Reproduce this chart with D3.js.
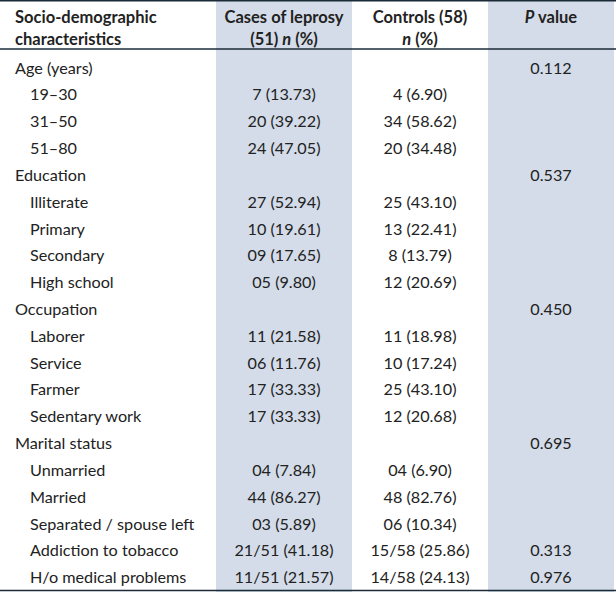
<!DOCTYPE html>
<html><head><meta charset="utf-8">
<script src="https://cdn.jsdelivr.net/npm/d3@7"></script>
<style>body{margin:0;background:#fff}svg{display:block}text{font-family:Lato,"Open Sans",sans-serif;fill:#222}</style>
</head><body><svg id="c" width="616" height="592"></svg>
<script>
const labels = ["Age (years)","19–30","31–50","51–80","Education","Illiterate","Primary","Secondary","High school","Occupation","Laborer","Service","Farmer","Sedentary work","Marital status","Unmarried","Married","Separated / spouse left","Addiction to tobacco","H/o medical problems"];
const levels = [0,1,1,1,0,1,1,1,1,0,1,1,1,1,0,1,1,1,1,1];
const cases = ["","7 (13.73)","20 (39.22)","24 (47.05)","","27 (52.94)","10 (19.61)","09 (17.65)","05 (9.80)","","11 (21.58)","06 (11.76)","17 (33.33)","17 (33.33)","","04 (7.84)","44 (86.27)","03 (5.89)","21/51 (41.18)","11/51 (21.57)"];
const controls = ["","4 (6.90)","34 (58.62)","20 (34.48)","","25 (43.10)","13 (22.41)","8 (13.79)","12 (20.69)","","11 (18.98)","10 (17.24)","25 (43.10)","12 (20.68)","","04 (6.90)","48 (82.76)","06 (10.34)","15/58 (25.86)","14/58 (24.13)"];
const pvalues = ["0.112","","","","0.537","","","","","0.450","","","","","0.695","","","","0.313","0.976"];

const svg = d3.select("#c");
const W = 616, H = 592;
const cols = [0,216,352,488,614];
const shade = "#d3dce8", lineC = "#1b2b38";
svg.append("rect").attr("x",cols[1]).attr("y",0).attr("width",cols[2]-cols[1]).attr("height",H).attr("fill",shade);
svg.append("rect").attr("x",cols[3]).attr("y",0).attr("width",cols[4]-cols[3]).attr("height",H).attr("fill",shade);

const y = d3.scaleBand().domain(d3.range(labels.length)).range([54.5,591]).paddingInner(0);
const fs = 16.2;
const g = svg.append("g").style("font-size",fs+"px");
const rows = g.selectAll("g.row").data(labels).join("g").attr("class","row")
  .attr("transform",(d,i)=>`translate(0,${y(i)+y.bandwidth()/2})`);
rows.append("text").attr("x",(d,i)=>levels[i]?30:15).attr("dy","0.35em").text(d=>d);
rows.append("text").attr("x",(cols[1]+cols[2])/2).attr("text-anchor","middle").attr("dy","0.35em").text((d,i)=>cases[i]);
rows.append("text").attr("x",(cols[2]+cols[3])/2).attr("text-anchor","middle").attr("dy","0.35em").text((d,i)=>controls[i]);
rows.append("text").attr("x",(cols[3]+cols[4])/2).attr("text-anchor","middle").attr("dy","0.35em").text((d,i)=>pvalues[i]);

const hg = svg.append("g").style("font-size","16.5px").style("font-weight","bold");
const l1 = 17, l2 = 39;
hg.append("text").attr("x",15).attr("y",l1).attr("dy","0.35em").text("Socio-demographic");
hg.append("text").attr("x",15).attr("y",l2).attr("dy","0.35em").text("characteristics");
hg.append("text").attr("x",(cols[1]+cols[2])/2).attr("y",l1).attr("dy","0.35em").attr("text-anchor","middle").text("Cases of leprosy");
const t2 = hg.append("text").attr("x",(cols[1]+cols[2])/2).attr("y",l2).attr("dy","0.35em").attr("text-anchor","middle");
t2.append("tspan").text("(51) "); t2.append("tspan").style("font-style","italic").text("n"); t2.append("tspan").text(" (%)");
hg.append("text").attr("x",(cols[2]+cols[3])/2).attr("y",l1).attr("dy","0.35em").attr("text-anchor","middle").text("Controls (58)");
const t3 = hg.append("text").attr("x",(cols[2]+cols[3])/2).attr("y",l2).attr("dy","0.35em").attr("text-anchor","middle");
t3.append("tspan").style("font-style","italic").text("n"); t3.append("tspan").text(" (%)");
const t4 = hg.append("text").attr("x",(cols[3]+cols[4])/2).attr("y",l1).attr("dy","0.35em").attr("text-anchor","middle");
t4.append("tspan").style("font-style","italic").text("P"); t4.append("tspan").text(" value");

svg.append("line").attr("x1",0).attr("x2",W).attr("y1",0.75).attr("y2",0.75).attr("stroke",lineC).attr("stroke-width",1.5);
svg.append("line").attr("x1",0).attr("x2",W).attr("y1",49).attr("y2",49).attr("stroke",lineC).attr("stroke-width",1.5);
svg.append("line").attr("x1",0).attr("x2",W).attr("y1",590.5).attr("y2",590.5).attr("stroke",lineC).attr("stroke-width",1.5);
</script></body></html>
